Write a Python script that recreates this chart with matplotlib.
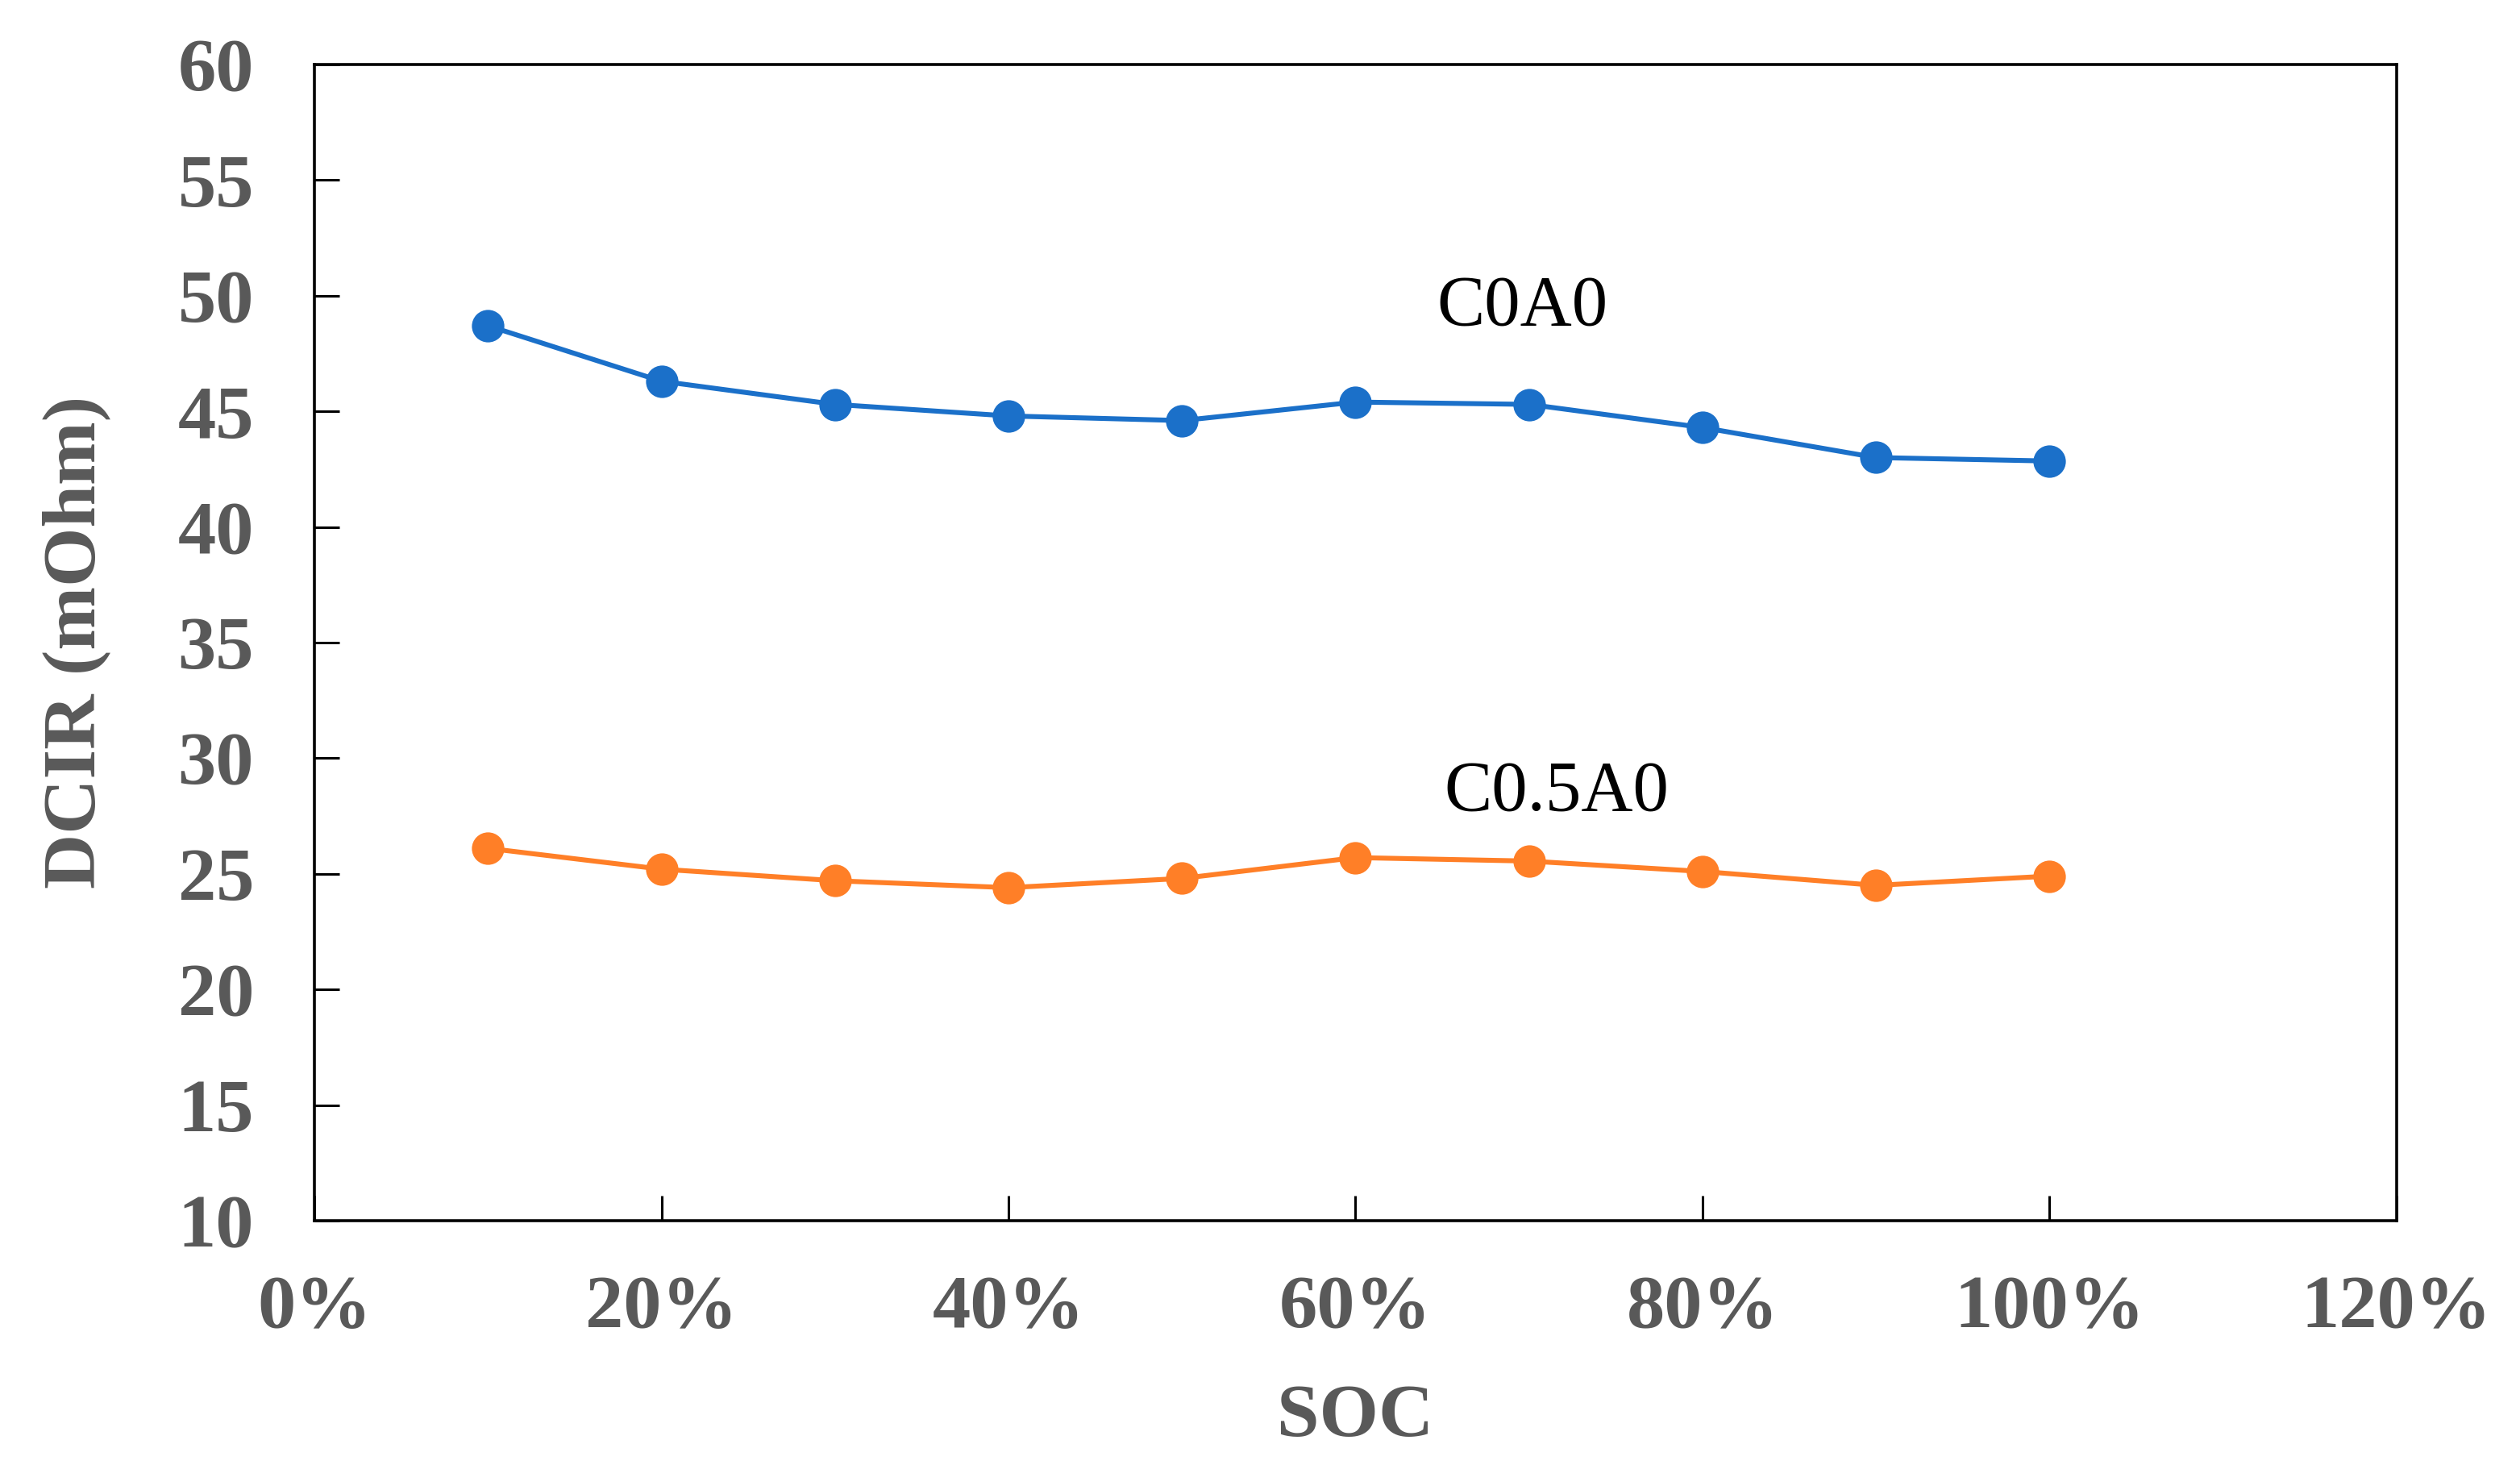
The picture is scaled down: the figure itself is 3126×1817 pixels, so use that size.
import numpy as np
import matplotlib
matplotlib.use("Agg")
import matplotlib.pyplot as plt
from matplotlib.ticker import PercentFormatter, MultipleLocator

# data
soc = [0.1, 0.2, 0.3, 0.4, 0.5, 0.6, 0.7, 0.8, 0.9, 1.0]
c0a0 = [48.7, 46.3, 45.3, 44.8, 44.6, 45.4, 45.3, 44.3, 43.0, 42.85]
c05a0 = [26.1, 25.2, 24.7, 24.4, 24.8, 25.7, 25.55, 25.1, 24.5, 24.9]

BLUE = "#1b70c9"
ORANGE = "#ff7f27"
GRAY = "#595959"

plt.rcParams["font.family"] = ["Liberation Serif", "DejaVu Serif"]

fig = plt.figure(figsize=(15.63, 9.085), dpi=200)
ax = fig.add_axes([0.1248, 0.1668, 0.8262, 0.7892])

ax.plot(soc, c0a0, color=BLUE, lw=2.2, marker="o", ms=13.5)
ax.plot(soc, c05a0, color=ORANGE, lw=2.2, marker="o", ms=13.5)

ax.text(0.696, 49.5, "C0A0", fontsize=32, ha="center", va="center", color="black")
ax.text(0.716, 28.5, "C0.5A0", fontsize=32, ha="center", va="center", color="black")

ax.set_xlim(0, 1.2)
ax.set_ylim(10, 60)
ax.xaxis.set_major_locator(MultipleLocator(0.2))
ax.xaxis.set_major_formatter(PercentFormatter(xmax=1, decimals=0))
ax.yaxis.set_major_locator(MultipleLocator(5))

for s in ax.spines.values():
    s.set_linewidth(1.3)
    s.set_color("black")

ax.tick_params(direction="in", length=11, width=1.1, top=False, right=False,
               labelsize=34, labelcolor=GRAY)
ax.tick_params(axis="x", pad=24)
ax.tick_params(axis="y", pad=27)
for lab in ax.get_xticklabels() + ax.get_yticklabels():
    lab.set_fontweight("bold")

ax.set_xlabel("SOC", fontsize=34, fontweight="bold", color=GRAY, labelpad=18)
ax.set_ylabel("DCIR (mOhm)", fontsize=34, fontweight="bold", color=GRAY, labelpad=30)

fig.savefig("out.png", dpi=200, facecolor="white")
